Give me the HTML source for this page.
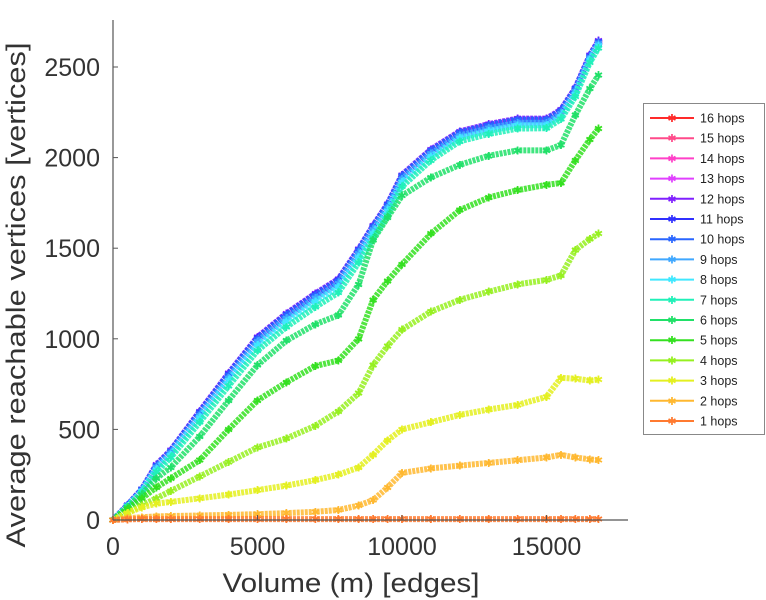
<!DOCTYPE html>
<html><head><meta charset="utf-8"><style>
body{margin:0;background:#fff;}
svg{display:block;font-family:"Liberation Sans",sans-serif;}
</style></head><body>
<svg id="chart" width="766" height="600">
<g id="marks"></g>
<g id="axes"></g>
<text x="351" y="592" font-size="27" fill="#333" text-anchor="middle" textLength="257" lengthAdjust="spacingAndGlyphs">Volume (m) [edges]</text>
<text transform="translate(25,295) rotate(-90)" font-size="27" fill="#333" text-anchor="middle" textLength="505" lengthAdjust="spacingAndGlyphs">Average reachable vertices [vertices]</text>
<g id="legend"></g>
</svg>
<script>
const xs=[0,500,1000,1500,2000,3000,4000,5000,6000,7000,7800,8500,9000,9500,10000,11000,12000,13000,14000,15000,15500,16000,16500,16800];
const h16=[0,80,165,295,375,585,795,995,1125,1235,1315,1485,1615,1735,1895,2035,2135,2175,2205,2205,2255,2375,2555,2635];
const h15=[0,80,165,295,375,585,795,995,1125,1235,1315,1485,1615,1735,1895,2035,2135,2175,2205,2205,2255,2375,2555,2635];
const h14=[0,80,165,295,375,585,795,995,1125,1235,1315,1485,1615,1735,1895,2035,2135,2175,2205,2205,2255,2375,2555,2635];
const h13=[0,80,165,295,375,585,795,995,1125,1235,1315,1485,1615,1735,1895,2035,2135,2175,2205,2205,2255,2375,2555,2635];
const h12=[0,82,170,305,385,600,810,1010,1140,1250,1330,1495,1625,1745,1905,2045,2145,2185,2215,2215,2265,2385,2565,2645];
const h11=[0,82,170,300,382,595,805,1005,1135,1245,1325,1490,1620,1740,1900,2040,2140,2180,2210,2210,2260,2380,2560,2640];
const h10=[0,80,168,298,380,590,800,1000,1130,1240,1320,1488,1618,1738,1898,2038,2138,2178,2208,2208,2258,2378,2558,2638];
const h9=[0,78,162,290,370,578,785,985,1115,1225,1305,1472,1602,1722,1882,2022,2122,2162,2192,2192,2242,2365,2550,2630];
const h8=[0,76,158,280,360,565,770,965,1095,1205,1285,1450,1580,1705,1865,2005,2108,2148,2178,2178,2228,2352,2540,2620];
const h7=[0,74,152,265,345,540,740,935,1065,1175,1255,1420,1555,1680,1840,1985,2090,2130,2160,2162,2212,2338,2525,2605];
const h6=[0,70,140,230,290,460,660,855,990,1080,1130,1300,1545,1670,1790,1890,1960,2010,2040,2040,2070,2235,2380,2455];
const h5=[0,60,120,180,230,330,500,660,760,850,880,1000,1215,1320,1410,1580,1710,1780,1820,1850,1860,1985,2100,2160];
const h4=[0,40,80,120,160,240,320,400,450,520,600,700,855,960,1050,1150,1215,1260,1300,1325,1350,1490,1550,1580];
const h3=[0,40,70,90,100,120,140,165,190,220,250,290,360,440,500,540,580,610,635,680,785,780,770,775];
const h2=[0,10,15,20,22,25,28,32,38,45,55,80,110,180,260,285,300,315,330,345,360,345,335,330];
const h1=[0,4,5,5,5,5,5,5,5,5,5,5,5,5,5,5,5,5,5,5,5,5,5,5];
const seriesNames=["16 hops","15 hops","14 hops","13 hops","12 hops","11 hops","10 hops","9 hops","8 hops","7 hops","6 hops","5 hops","4 hops","3 hops","2 hops","1 hops"];
const seriesData=[h16,h15,h14,h13,h12,h11,h10,h9,h8,h7,h6,h5,h4,h3,h2,h1];
const colors=["#ff2a2a","#ff4a8a","#ff40c8","#e040ff","#8020ff","#3030ff","#2a66ff","#40a8ff","#40e8ff","#20f0b8","#20e068","#34e020","#96f020","#e4f020","#ffb830","#ff7a30"];
const xTicks=[0,5000,10000,15000];
const yTicks=[0,500,1000,1500,2000,2500];

const X0=113,Y0=520;
function sx(v){return X0+v*0.0289;}
function sy(v){return Y0-v*0.1812;}
const NS="http://www.w3.org/2000/svg";
function mk(t,a,p){const e=document.createElementNS(NS,t);for(const k in a)e.setAttribute(k,a[k]);p.appendChild(e);return e;}

const marks=document.getElementById('marks');
seriesData.forEach((d,i)=>{
  const pts=d.map((v,j)=>sx(xs[j]).toFixed(1)+","+sy(v).toFixed(1)).join(" ");
  const pl=mk('polyline',{points:pts,fill:'none',stroke:colors[i],'stroke-width':6,'stroke-linejoin':'round','stroke-dasharray':'3 1',opacity:0.85},marks);
  
  
  d.forEach((v,j)=>{
    const t=mk('text',{x:sx(xs[j]),y:sy(v)+4,'font-size':11,fill:colors[i],'text-anchor':'middle'},marks);
    t.textContent='✱';
    
    
  });
});

const axes=document.getElementById('axes');
mk('line',{x1:X0,y1:20,x2:X0,y2:Y0,stroke:'#555','stroke-width':1.2},axes);
mk('line',{x1:X0,y1:Y0,x2:628,y2:Y0,stroke:'#555','stroke-width':1.2},axes);
xTicks.forEach(v=>{
  mk('line',{x1:sx(v),y1:Y0,x2:sx(v),y2:Y0-5,stroke:'#555'},axes);
  const t=mk('text',{x:sx(v),y:555,'font-size':25,fill:'#333','text-anchor':'middle'},axes);
  t.textContent=v;
  
  
});
yTicks.forEach(v=>{
  mk('line',{x1:X0,y1:sy(v),x2:X0+5,y2:sy(v),stroke:'#555'},axes);
  const t=mk('text',{x:100,y:sy(v)+9,'font-size':25,fill:'#333','text-anchor':'end'},axes);
  t.textContent=v;
  
  
});

const lg=document.getElementById('legend');
mk('rect',{x:643.5,y:103.5,width:121,height:331,fill:'#fff',stroke:'#888'},lg);
seriesNames.forEach((n,i)=>{
  const y=118+i*20.2;
  const g=mk('g',{},lg);
  
  
  mk('line',{x1:650,y1:y,x2:694,y2:y,stroke:colors[i],'stroke-width':2},g);
  const m=mk('text',{x:672,y:y+4,'font-size':11,fill:colors[i],'text-anchor':'middle'},g);
  m.textContent='✱';
  const t=mk('text',{x:700,y:y+4.5,'font-size':12.5,fill:'#222'},g);
  t.textContent=n;
});
</script>
</body></html>
